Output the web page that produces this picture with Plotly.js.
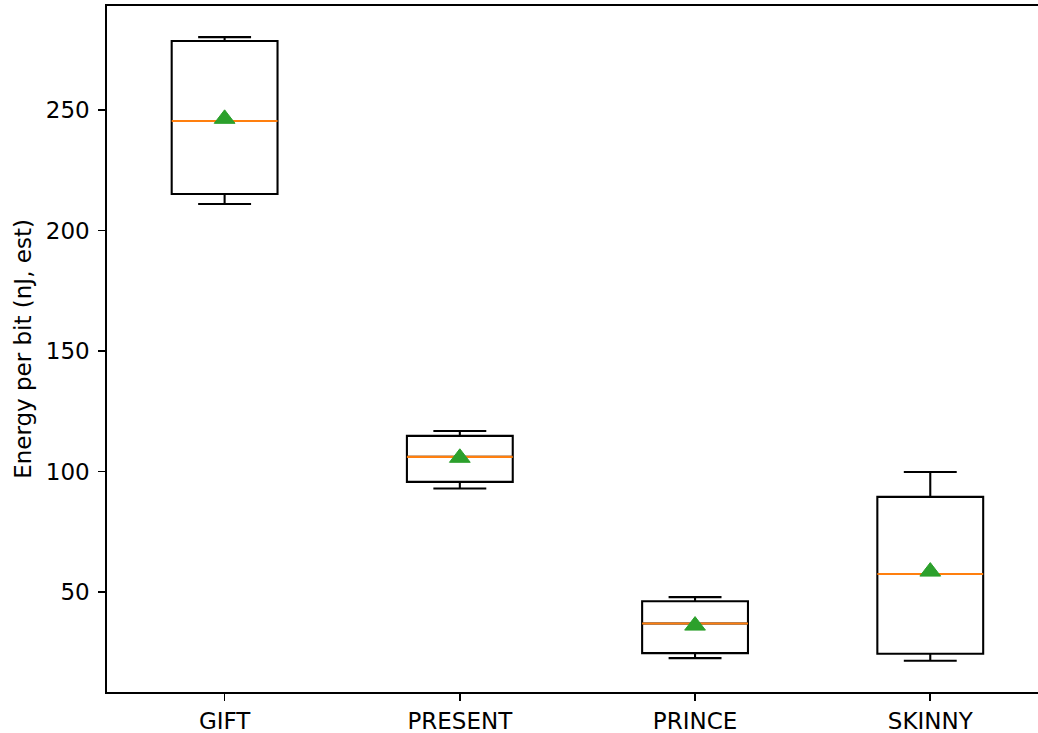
<!DOCTYPE html>
<html>
<head>
<meta charset="utf-8">
<script src="https://cdn.plot.ly/plotly-3.0.1.min.js"></script>
<style>html,body{margin:0;padding:0;background:#fff;overflow:hidden}</style>
</head>
<body>
<div id="chart" style="width:1038px;height:733px"></div>
<script>
const categories = ["GIFT", "PRESENT", "PRINCE", "SKINNY"];
const positions = [1, 2, 3, 4];
const lowerWhisker = [211.0, 93.0, 22.6, 21.5];
const q1Values = [215.1, 95.7, 24.7, 24.4];
const medianValues = [245.4, 106.1, 37.0, 57.5];
const q3Values = [278.6, 114.8, 46.2, 89.5];
const upperWhisker = [280.2, 116.8, 47.9, 99.8];
const meanValues = [246.3, 105.7, 36.1, 58.5];

const boxWidth = 0.45;
const font = {family: "DejaVu Sans", size: 23, color: "#000"};

// median segments built from the data arrays
const medX = [], medY = [];
positions.forEach((p, i) => {
  medX.push(p - boxWidth / 2, p + boxWidth / 2, null);
  medY.push(medianValues[i], medianValues[i], null);
});

const traces = [
  {
    type: "box",
    x: positions,
    q1: q1Values,
    median: medianValues,
    q3: q3Values,
    lowerfence: lowerWhisker,
    upperfence: upperWhisker,
    width: boxWidth,
    whiskerwidth: 0.5,
    boxpoints: false,
    fillcolor: "rgba(0,0,0,0)",
    line: {color: "#000", width: 2.08},
    hoverinfo: "skip",
    showlegend: false
  },
  {
    type: "scatter",
    mode: "lines",
    x: medX,
    y: medY,
    line: {color: "#ff7f0e", width: 2.08},
    hoverinfo: "skip",
    showlegend: false
  },
  {
    type: "scatter",
    mode: "markers",
    x: positions,
    y: meanValues,
    marker: {symbol: "triangle-up", size: 18, color: "#2ca02c", line: {color: "#2ca02c", width: 1}},
    hoverinfo: "skip",
    showlegend: false
  }
];

const layout = {
  width: 1038,
  height: 733,
  margin: {l: 107, r: 0, t: 6, b: 41, pad: 0},
  paper_bgcolor: "#fff",
  plot_bgcolor: "#fff",
  font: font,
  showlegend: false,
  xaxis: {
    type: "linear",
    range: [0.5, 4.458],
    tickvals: positions,
    ticktext: categories,
    ticks: "outside",
    ticklen: 7,
    tickwidth: 1.67,
    tickcolor: "#000",
    showgrid: false,
    zeroline: false,
    showline: true,
    linecolor: "#000",
    linewidth: 1.67,
    mirror: true,
    tickfont: font,
    ticklabelstandoff: 1
  },
  yaxis: {
    range: [8.56, 293.1],
    tick0: 0,
    dtick: 50,
    ticks: "outside",
    ticklen: 7,
    tickwidth: 1.67,
    tickcolor: "#000",
    showgrid: false,
    zeroline: false,
    showline: true,
    linecolor: "#000",
    linewidth: 1.67,
    mirror: false,
    tickfont: font,
    ticklabelstandoff: 4,
    title: {text: "Energy per bit (nJ, est)", font: font, standoff: 8}
  }
};

Plotly.newPlot("chart", traces, layout, {displayModeBar: false, staticPlot: true});
</script>
</body>
</html>
